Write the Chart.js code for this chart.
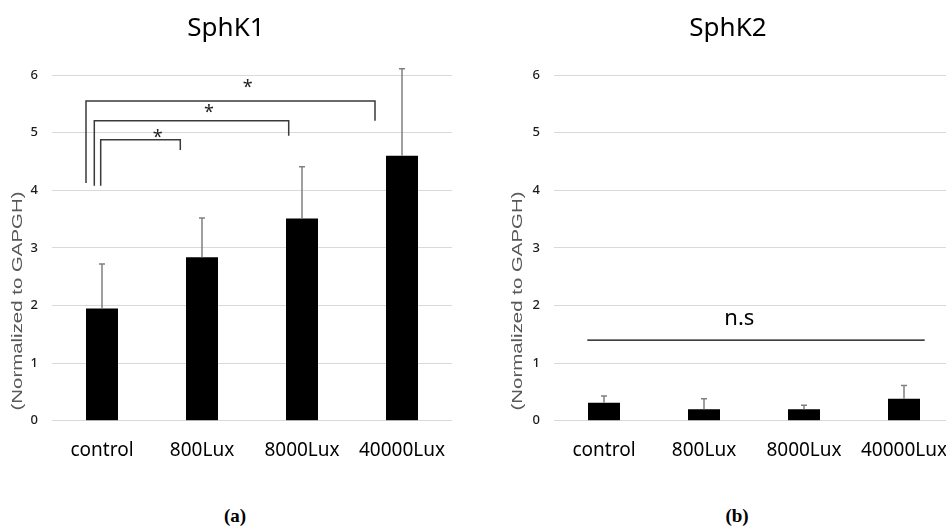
<!DOCTYPE html>
<html>
<head>
<meta charset="utf-8">
<script src="https://cdn.jsdelivr.net/npm/chart.js@4"></script>
<style>
  html, body { margin: 0; padding: 0; background: #fff; overflow: hidden; }
  body { width: 946px; height: 527px; position: relative; }
  canvas { position: absolute; top: 0; }
  #chartA { left: 0; }
  #chartB { left: 470px; }
  .cap {
    position: absolute; top: 516px; transform: translate(-50%, -50%);
    font: bold 19px "Liberation Serif", serif; color: #000;
  }
</style>
</head>
<body>
<canvas id="chartA" width="470" height="470"></canvas>
<canvas id="chartB" width="502" height="470"></canvas>
<div class="cap" style="left:235px">(a)</div>
<div class="cap" style="left:737px">(b)</div>
<script>
// groups and y ticks shared by both panels
const groups = ["control", "800Lux", "8000Lux", "40000Lux"];
const yTicks = [0, 1, 2, 3, 4, 5, 6];

// SphK1 means and upper error (mean + SD)
const sphk1Mean = [1.95, 2.84, 3.51, 4.60];
const sphk1Top = [2.72, 3.52, 4.41, 6.11];

// SphK2 means and upper error
const sphk2Mean = [0.31, 0.20, 0.20, 0.38];
const sphk2Top = [0.43, 0.38, 0.27, 0.61];

// significance brackets for SphK1: x in category index units, y in data units
const bracketLeft = [-0.16, -0.077, -0.013];
const bracketRight = [2.73, 1.867, 0.783];
const bracketTop = [5.55, 5.21, 4.88];
const bracketLeftFoot = [4.13, 4.08, 4.08];
const bracketRightFoot = [5.21, 4.95, 4.70];
const starX = [1.457, 1.07, 0.557];
const starY = [5.81, 5.38, 4.95];

// "n.s" line for SphK2
const nsFrom = -0.167, nsTo = 3.207, nsY = 1.40;
const nsTextX = 1.353, nsTextY = 1.77;

const yTitle = "(Normalized to GAPGH)";

function catPx(x, v) {
  const p0 = x.getPixelForValue(0), p1 = x.getPixelForValue(1);
  return p0 + v * (p1 - p0);
}

const extras = {
  id: "extras",
  afterDatasetsDraw(chart, args, opts) {
    const ctx = chart.ctx;
    const x = chart.scales.x, y = chart.scales.y;
    ctx.save();
    // error bars (upper only)
    ctx.strokeStyle = "#808080";
    ctx.lineWidth = 1.5;
    opts.means.forEach((m, i) => {
      const px = x.getPixelForValue(i);
      const y0 = y.getPixelForValue(m), y1 = y.getPixelForValue(opts.tops[i]);
      ctx.beginPath();
      ctx.moveTo(px, y0); ctx.lineTo(px, y1);
      ctx.moveTo(px - 3, y1); ctx.lineTo(px + 3, y1);
      ctx.stroke();
    });
    // y axis title
    ctx.fillStyle = "#595959";
    ctx.font = "14px 'Liberation Sans', Arial, sans-serif";
    ctx.textAlign = "center";
    ctx.textBaseline = "middle";
    ctx.translate(opts.titleX, 301);
    ctx.rotate(-Math.PI / 2);
    const w = ctx.measureText(yTitle).width;
    ctx.scale(219 / w, 1);
    ctx.fillText(yTitle, 0, 0);
    ctx.restore();

    ctx.save();
    ctx.strokeStyle = "#3a3a3a";
    ctx.lineWidth = 1.5;
    if (opts.brackets) {
      bracketLeft.forEach((l, i) => {
        const xl = catPx(x, l), xr = catPx(x, bracketRight[i]);
        const yt = y.getPixelForValue(bracketTop[i]);
        ctx.beginPath();
        ctx.moveTo(xl, y.getPixelForValue(bracketLeftFoot[i]));
        ctx.lineTo(xl, yt);
        ctx.lineTo(xr, yt);
        ctx.lineTo(xr, y.getPixelForValue(bracketRightFoot[i]));
        ctx.stroke();
      });
      ctx.fillStyle = "#222";
      ctx.font = "18px 'Noto Sans', sans-serif";
      ctx.textAlign = "center";
      ctx.textBaseline = "middle";
      starX.forEach((sx, i) => {
        ctx.fillText("*", catPx(x, sx), y.getPixelForValue(starY[i]) + 2);
      });
    }
    if (opts.ns) {
      ctx.strokeStyle = "#000";
      ctx.lineWidth = 1.2;
      const yy = y.getPixelForValue(nsY);
      ctx.beginPath();
      ctx.moveTo(catPx(x, nsFrom), yy);
      ctx.lineTo(catPx(x, nsTo), yy);
      ctx.stroke();
      ctx.fillStyle = "#000";
      ctx.font = "22px 'Noto Sans', sans-serif";
      ctx.textAlign = "center";
      ctx.textBaseline = "middle";
      ctx.fillText("n.s", catPx(x, nsTextX), y.getPixelForValue(nsTextY));
    }
    ctx.restore();
  }
};

function makeChart(id, title, means, tops, padLeft, titleX, brackets, ns) {
  return new Chart(document.getElementById(id), {
    type: "bar",
    data: {
      labels: groups,
      datasets: [{
        data: means,
        backgroundColor: "#000",
        borderWidth: 0,
        barPercentage: 0.32,
        categoryPercentage: 1
      }]
    },
    options: {
      responsive: false,
      animation: false,
      layout: { padding: { left: padLeft, right: 18, top: 0, bottom: 0 } },
      plugins: {
        legend: { display: false },
        tooltip: { enabled: false },
        title: {
          display: true,
          text: title,
          color: "#000",
          font: { family: "'Noto Sans', sans-serif", size: 26, weight: "normal" },
          padding: { top: 13, bottom: 31 }
        },
        extras: { means: means, tops: tops, titleX: titleX, brackets: brackets, ns: ns }
      },
      scales: {
        x: {
          grid: { display: false, drawTicks: false },
          border: { display: false },
          ticks: {
            color: "#000",
            padding: 18,
            font: { family: "'Noto Sans', sans-serif", size: 19 }
          },
          afterFit: s => { s.height = 49.3; }
        },
        y: {
          min: 0,
          max: 6,
          afterBuildTicks: s => { s.ticks = yTicks.map(v => ({ value: v })); },
          grid: { color: "#d9d9d9", lineWidth: 1, drawTicks: false },
          border: { display: false },
          ticks: {
            color: "#1a1a1a",
            padding: 14,
            font: { family: "'Noto Sans', sans-serif", size: 13, weight: "500" }
          },
          afterFit: s => { s.width = 52; }
        }
      }
    },
    plugins: [extras]
  });
}

makeChart("chartA", "SphK1", sphk1Mean, sphk1Top, 0, 18, true, false);
makeChart("chartB", "SphK2", sphk2Mean, sphk2Top, 32, 48.3, false, true);
</script>
</body>
</html>
